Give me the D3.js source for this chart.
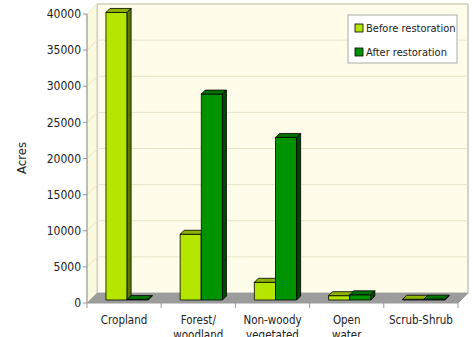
<!DOCTYPE html>
<html>
<head>
<meta charset="utf-8">
<script src="https://cdn.jsdelivr.net/npm/d3@7"></script>
<style>
  body { margin: 0; background: #fff; }
  text { font-family: "DejaVu Sans Condensed", "DejaVu Sans", sans-serif; fill: #222; }
</style>
</head>
<body>
<svg width="473" height="337"></svg>
<script>
var categories = [["Cropland"], ["Forest/", "woodland"], ["Non-woody", "vegetated"], ["Open", "water"], ["Scrub-Shrub"]];
var seriesNames = ["Before restoration", "After restoration"];
var before = [39800, 9100, 2450, 600, 100];
var after = [80, 28500, 22500, 720, 120];
var yTicks = [0, 5000, 10000, 15000, 20000, 25000, 30000, 35000, 40000];

var colors = { fill: ["#b4e600", "#009300"], top: ["#8cb400", "#007000"], side: ["#5f7a00", "#004a00"] };

var svg = d3.select("svg");
var pLeft = 87, pRight = 458, pBottom = 303, pTop = 14;
var depth = 10;          // 3d offset of the back wall
var bz0 = 3, bz1 = 7;    // bar front/back depth

var y = d3.scaleLinear().domain([0, 40000]).range([pBottom, pTop]);
var x = d3.scaleBand().domain(d3.range(categories.length)).range([pLeft, pRight]).paddingInner(0.43).paddingOuter(0.215);
var xs = d3.scaleBand().domain([0, 1]).range([0, x.bandwidth()]);

// back wall
svg.append("rect").attr("x", pLeft + depth).attr("y", pTop - depth).attr("width", pRight - pLeft)
  .attr("height", pBottom - pTop).attr("fill", "#fffde9").attr("stroke", "#a8a8a8");
// side wall
svg.append("polygon").attr("points", [[pLeft, pBottom], [pLeft + depth, pBottom - depth], [pLeft + depth, pTop - depth], [pLeft, pTop]].join(" "))
  .attr("fill", "#fbfadf").attr("stroke", "#c8c8c8");

// gridlines
yTicks.forEach(function (t) {
  if (t === 0) return;
  svg.append("line").attr("x1", pLeft + depth).attr("x2", pRight + depth).attr("y1", y(t) - depth).attr("y2", y(t) - depth)
    .attr("stroke", "#e6e4c6");
  svg.append("line").attr("x1", pLeft).attr("x2", pLeft + depth).attr("y1", y(t)).attr("y2", y(t) - depth)
    .attr("stroke", "#e6e4c6");
});

// floor
svg.append("polygon").attr("points", [[pLeft, pBottom], [pRight, pBottom], [pRight + depth, pBottom - depth], [pLeft + depth, pBottom - depth]].join(" "))
  .attr("fill", "#9c9c9c");

// bars
var series = [before, after];
categories.forEach(function (c, i) {
  [0, 1].forEach(function (s) {
    var v = series[s][i];
    var x0 = x(i) + xs(s) + bz0, x1 = x0 + xs.bandwidth();
    var yb = y(0) - bz0, yt = y(v) - bz0;
    var d = bz1 - bz0;
    var g = svg.append("g").attr("stroke", "#000").attr("stroke-width", 0.8).attr("stroke-linejoin", "round");
    g.append("rect").attr("x", x0).attr("y", yt).attr("width", x1 - x0).attr("height", yb - yt).attr("fill", colors.fill[s]);
    g.append("polygon").attr("points", [[x0, yt], [x1, yt], [x1 + d, yt - d], [x0 + d, yt - d]].join(" ")).attr("fill", colors.top[s]);
    g.append("polygon").attr("points", [[x1, yt], [x1 + d, yt - d], [x1 + d, yb - d], [x1, yb]].join(" ")).attr("fill", colors.side[s]);
  });
});

// y axis
svg.append("line").attr("x1", pLeft).attr("x2", pLeft).attr("y1", pTop).attr("y2", pBottom).attr("stroke", "#999");
yTicks.forEach(function (t) {
  svg.append("line").attr("x1", pLeft - 4).attr("x2", pLeft).attr("y1", y(t)).attr("y2", y(t)).attr("stroke", "#999");
  svg.append("text").attr("x", pLeft - 6).attr("y", y(t)).attr("dy", "0.35em").attr("text-anchor", "end")
    .attr("font-size", 12).text(t);
});
svg.append("text").attr("transform", "translate(26,158) rotate(-90)").attr("text-anchor", "middle")
  .attr("font-size", 13).text("Acres");

// x axis
svg.append("line").attr("x1", pLeft).attr("x2", pRight).attr("y1", pBottom).attr("y2", pBottom).attr("stroke", "#999");
svg.append("line").attr("x1", pRight).attr("x2", pRight + depth).attr("y1", pBottom).attr("y2", pBottom - depth).attr("stroke", "#999");
d3.range(categories.length + 1).forEach(function (k) {
  var xx = pLeft + k * (pRight - pLeft) / categories.length;
  svg.append("line").attr("x1", xx).attr("x2", xx).attr("y1", pBottom).attr("y2", pBottom + 5).attr("stroke", "#999");
});
categories.forEach(function (c, i) {
  var cx = x(i) + x.bandwidth() / 2;
  var t = svg.append("text").attr("x", cx).attr("y", 324).attr("text-anchor", "middle").attr("font-size", 11.5);
  c.forEach(function (line, j) {
    t.append("tspan").attr("x", cx).attr("dy", j ? 15 : 0).text(line);
  });
});

// legend
var lg = svg.append("g").attr("transform", "translate(348,15)");
lg.append("rect").attr("width", 109).attr("height", 48).attr("fill", "#fff").attr("stroke", "#aaa");
seriesNames.forEach(function (n, i) {
  lg.append("rect").attr("x", 7).attr("y", 9 + i * 24).attr("width", 8).attr("height", 8)
    .attr("fill", colors.fill[i]).attr("stroke", "#000").attr("stroke-width", 0.8);
  lg.append("text").attr("x", 18).attr("y", 13 + i * 24).attr("dy", "0.35em").attr("font-size", 11).text(n);
});
</script>
</body>
</html>
